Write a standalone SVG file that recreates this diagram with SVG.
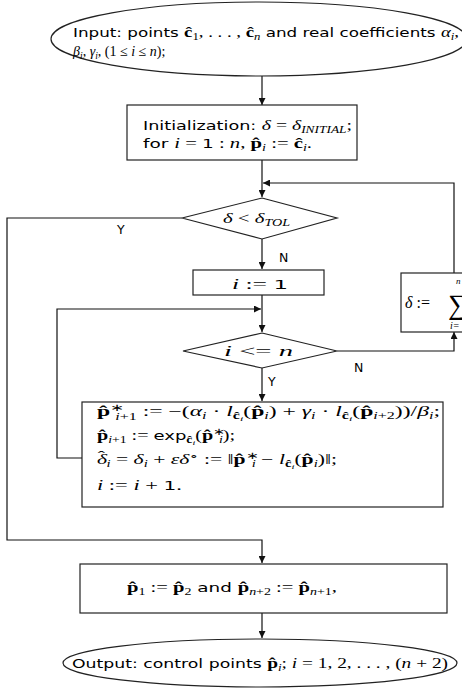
<svg xmlns="http://www.w3.org/2000/svg" width="462" height="700" viewBox="0 0 462 700">
<style>
.bg{fill:#fff}
.n{fill:#fff;stroke:#222;stroke-width:1.2}
.c{fill:none;stroke:#111;stroke-width:1.2}
.t{font-family:"DejaVu Sans",Verdana,sans-serif;font-size:12.5px;fill:#000}
.m{font-family:"Liberation Serif","Times New Roman",serif;font-style:italic;font-size:14px}
.r{font-family:"Liberation Serif","Times New Roman",serif;font-style:normal;font-size:14px}
.b{font-family:"Liberation Serif","Times New Roman",serif;font-weight:bold;font-style:normal;font-size:14px}
.s{font-size:9.5px}
.ss{font-size:7px}
</style>
<defs>
<marker id="ah" viewBox="0 0 10 10" refX="10" refY="5" markerWidth="7" markerHeight="7" markerUnits="userSpaceOnUse" orient="auto">
<path d="M0,0 L10,5 L0,10 z" fill="#111"/>
</marker>
</defs>
<rect class="bg" x="0" y="0" width="462" height="700"/>

<g id="connectors">
<path class="c" d="M262,76 V105" marker-end="url(#ah)"/>
<path class="c" d="M262,160 V197" marker-end="url(#ah)"/>
<path class="c" d="M454,273 V183 H263" marker-end="url(#ah)"/>
<path class="c" d="M182,218 H7 V540 H262 V563" marker-end="url(#ah)"/>
<path class="c" d="M262,239 V269" marker-end="url(#ah)"/>
<path class="c" d="M262,295 V332" marker-end="url(#ah)"/>
<path class="c" d="M82,458 H57 V309 H261" marker-end="url(#ah)"/>
<path class="c" d="M337,351 H454 V332" marker-end="url(#ah)"/>
<path class="c" d="M262,368 V401" marker-end="url(#ah)"/>
<path class="c" d="M262,613 V638" marker-end="url(#ah)"/>
<text class="t" x="117" y="234">Y</text>
<text class="t" x="279" y="262">N</text>
<text class="t" x="354" y="372">N</text>
<text class="t" x="268" y="386">Y</text>
</g>

<g id="input">
<ellipse class="n" cx="259" cy="39" rx="208" ry="37"/>
<text class="t" x="73" y="37" textLength="386" lengthAdjust="spacingAndGlyphs">Input: points <tspan class="b">ĉ</tspan><tspan class="r s" baseline-shift="-3">1</tspan><tspan class="r">, . . . , </tspan><tspan class="b">ĉ</tspan><tspan class="m s" baseline-shift="-3">n</tspan> and real coefficients <tspan class="m">α</tspan><tspan class="m s" baseline-shift="-3">i</tspan><tspan class="r">,</tspan></text>
<text class="t" x="73" y="56"><tspan class="m">β</tspan><tspan class="m s" baseline-shift="-3">i</tspan><tspan class="r">, </tspan><tspan class="m">γ</tspan><tspan class="m s" baseline-shift="-3">i</tspan><tspan class="r">, (1 ≤ </tspan><tspan class="m">i</tspan><tspan class="r"> ≤ </tspan><tspan class="m">n</tspan><tspan class="r">);</tspan></text>
</g>

<g id="init">
<rect class="n" x="127" y="105" width="230" height="55"/>
<text class="t" x="143" y="130" textLength="209" lengthAdjust="spacingAndGlyphs">Initialization: <tspan class="m">δ</tspan><tspan class="r"> = </tspan><tspan class="m">δ</tspan><tspan class="m s" baseline-shift="-3">INITIAL</tspan><tspan class="r">;</tspan></text>
<text class="t" x="143" y="148" textLength="169" lengthAdjust="spacingAndGlyphs">for <tspan class="m">i</tspan><tspan class="r"> = </tspan>1<tspan class="r"> : </tspan><tspan class="m">n</tspan><tspan class="r">, </tspan><tspan class="b">p̂</tspan><tspan class="m s" baseline-shift="-3">i</tspan><tspan class="r"> := </tspan><tspan class="b">ĉ</tspan><tspan class="m s" baseline-shift="-3">i</tspan><tspan class="r">.</tspan></text>
</g>

<g id="test-tol">
<polygon class="n" points="262,198 337,218 262,239 182,218"/>
<text class="t" x="223" y="223" textLength="67" lengthAdjust="spacingAndGlyphs"><tspan class="m">δ</tspan><tspan class="r"> &lt; </tspan><tspan class="m">δ</tspan><tspan class="m s" baseline-shift="-3">TOL</tspan></text>
</g>

<g id="set-i">
<rect class="n" x="193" y="270" width="131" height="25"/>
<text class="t" x="232" y="289" textLength="56" lengthAdjust="spacingAndGlyphs"><tspan class="m">i</tspan><tspan class="r"> := </tspan>1</text>
</g>

<g id="test-i">
<polygon class="n" points="262,333 337,351 262,368 183,351"/>
<text class="t" x="224" y="356" textLength="69" lengthAdjust="spacingAndGlyphs"><tspan class="m">i</tspan><tspan class="r"> &lt;= </tspan><tspan class="m">n</tspan></text>
</g>

<g id="update-delta">
<rect class="n" x="401" y="273" width="80" height="59"/>
<text class="t" x="405" y="308"><tspan class="m" style="font-size:16px">δ</tspan><tspan class="r" style="font-size:16px"> := </tspan></text>
<text class="r" x="448" y="314" style="font-size:28px">∑</text>
<text class="m" x="450" y="329" style="font-size:10px">i=</text>
<text class="m" x="456" y="284" style="font-size:9px">n</text>
</g>

<g id="compute">
<rect class="n" x="82" y="402" width="361" height="105"/>
<text class="t" x="97" y="416" textLength="343" lengthAdjust="spacingAndGlyphs"><tspan class="b">p̂</tspan><tspan class="r s" baseline-shift="5">∗</tspan><tspan class="s" dx="-5" baseline-shift="-4"><tspan class="m s">i</tspan><tspan class="r s">+1</tspan></tspan><tspan class="r"> := −(</tspan><tspan class="m">α</tspan><tspan class="m s" baseline-shift="-3">i</tspan><tspan class="r"> · </tspan><tspan class="m">l</tspan><tspan class="b s" baseline-shift="-3">ĉ</tspan><tspan class="m ss" baseline-shift="-5">i</tspan><tspan class="r">(</tspan><tspan class="b">p̂</tspan><tspan class="m s" baseline-shift="-3">i</tspan><tspan class="r">) + </tspan><tspan class="m">γ</tspan><tspan class="m s" baseline-shift="-3">i</tspan><tspan class="r"> · </tspan><tspan class="m">l</tspan><tspan class="b s" baseline-shift="-3">ĉ</tspan><tspan class="m ss" baseline-shift="-5">i</tspan><tspan class="r">(</tspan><tspan class="b">p̂</tspan><tspan class="s" baseline-shift="-3"><tspan class="m s">i</tspan><tspan class="r s">+2</tspan></tspan><tspan class="r">))/</tspan><tspan class="m">β</tspan><tspan class="m s" baseline-shift="-3">i</tspan><tspan class="r">;</tspan></text>
<text class="t" x="97" y="440" textLength="138" lengthAdjust="spacingAndGlyphs"><tspan class="b">p̂</tspan><tspan class="s" baseline-shift="-3"><tspan class="m s">i</tspan><tspan class="r s">+1</tspan></tspan><tspan class="r"> := </tspan>exp<tspan class="b s" baseline-shift="-3">ĉ</tspan><tspan class="m ss" baseline-shift="-5">i</tspan><tspan class="r">(</tspan><tspan class="b">p̂</tspan><tspan class="r s" baseline-shift="5">∗</tspan><tspan class="m s" dx="-4" baseline-shift="-3">i</tspan><tspan class="r">);</tspan></text>
<text class="t" x="97" y="464" textLength="240" lengthAdjust="spacingAndGlyphs"><tspan class="m">δ</tspan><tspan class="r" dx="-6" baseline-shift="3">ˆ</tspan><tspan class="m s" dx="1" baseline-shift="-3">i</tspan><tspan class="r"> = </tspan><tspan class="m">δ</tspan><tspan class="m s" baseline-shift="-3">i</tspan><tspan class="r"> + </tspan><tspan class="m">εδ</tspan><tspan class="r s" baseline-shift="5">∘</tspan><tspan class="r"> := ‖</tspan><tspan class="b">p̂</tspan><tspan class="r s" baseline-shift="5">∗</tspan><tspan class="m s" dx="-4" baseline-shift="-3">i</tspan><tspan class="r"> − </tspan><tspan class="m">l</tspan><tspan class="b s" baseline-shift="-3">ĉ</tspan><tspan class="m ss" baseline-shift="-5">i</tspan><tspan class="r">(</tspan><tspan class="b">p̂</tspan><tspan class="m s" baseline-shift="-3">i</tspan><tspan class="r">)‖;</tspan></text>
<text class="t" x="97" y="490" textLength="85" lengthAdjust="spacingAndGlyphs"><tspan class="m">i</tspan><tspan class="r"> := </tspan><tspan class="m">i</tspan><tspan class="r"> + </tspan>1<tspan class="r">.</tspan></text>
</g>

<g id="ends">
<rect class="n" x="80" y="564" width="367" height="49"/>
<text class="t" x="127" y="592" textLength="210" lengthAdjust="spacingAndGlyphs"><tspan class="b">p̂</tspan><tspan class="r s" baseline-shift="-3">1</tspan><tspan class="r"> := </tspan><tspan class="b">p̂</tspan><tspan class="r s" baseline-shift="-3">2</tspan> and <tspan class="b">p̂</tspan><tspan class="s" baseline-shift="-3"><tspan class="m s">n</tspan><tspan class="r s">+2</tspan></tspan><tspan class="r"> := </tspan><tspan class="b">p̂</tspan><tspan class="s" baseline-shift="-3"><tspan class="m s">n</tspan><tspan class="r s">+1</tspan></tspan><tspan class="r">,</tspan></text>
</g>

<g id="output">
<ellipse class="n" cx="260" cy="663" rx="197" ry="24"/>
<text class="t" x="72" y="668" textLength="376" lengthAdjust="spacingAndGlyphs">Output: control points <tspan class="b">p̂</tspan><tspan class="m s" baseline-shift="-3">i</tspan><tspan class="r">; </tspan><tspan class="m">i</tspan><tspan class="r"> = 1, 2, . . . , (</tspan><tspan class="m">n</tspan><tspan class="r"> + 2)</tspan></text>
</g>
</svg>
